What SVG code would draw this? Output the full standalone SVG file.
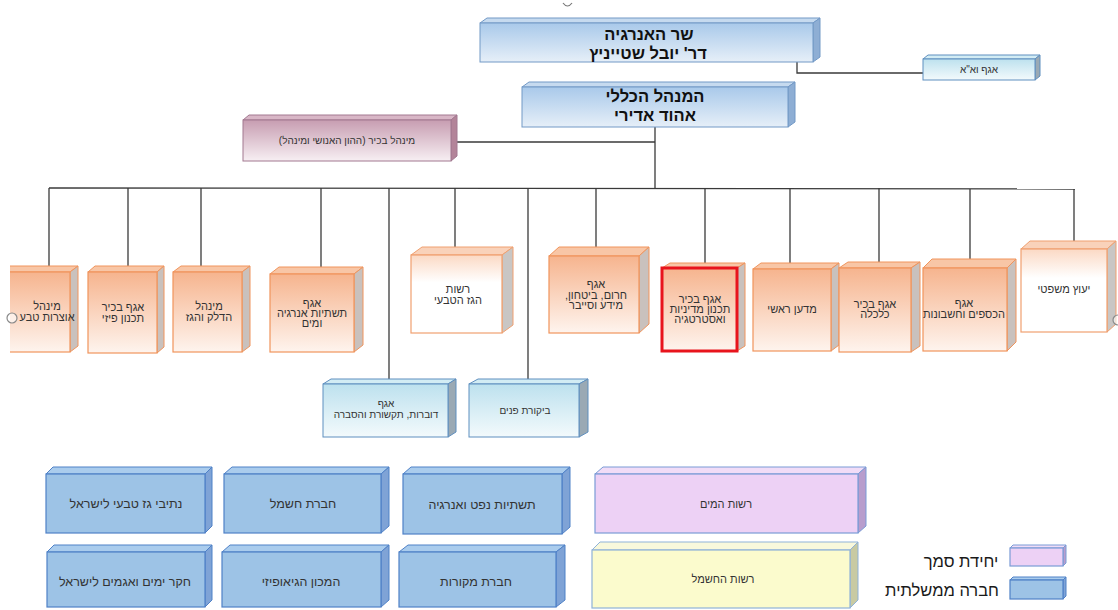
<svg xmlns="http://www.w3.org/2000/svg" width="1118" height="610" viewBox="0 0 1118 610">
<defs>
<linearGradient id="gBlue" x1="0" y1="0" x2="0" y2="1"><stop offset="0" stop-color="#a9c9ea"/><stop offset="1" stop-color="#e6eff8"/></linearGradient>
<linearGradient id="gPink" x1="0" y1="0" x2="0" y2="1"><stop offset="0" stop-color="#c79db1"/><stop offset="1" stop-color="#f7eff3"/></linearGradient>
<linearGradient id="gOr" x1="0" y1="0" x2="0" y2="1"><stop offset="0" stop-color="#f6b48e"/><stop offset="1" stop-color="#fef4ee"/></linearGradient>
<linearGradient id="gWh" x1="0" y1="0" x2="0" y2="1"><stop offset="0" stop-color="#fbd9c4"/><stop offset="0.35" stop-color="#ffffff"/><stop offset="1" stop-color="#ffffff"/></linearGradient>
<linearGradient id="gCy" x1="0" y1="0" x2="0" y2="1"><stop offset="0" stop-color="#bde1ee"/><stop offset="1" stop-color="#f3fafc"/></linearGradient>
<clipPath id="clipL"><rect x="10" y="200" width="120" height="200"/></clipPath>
</defs>
<style>
.ln{stroke:#3a3a3a;stroke-width:1.3;fill:none}
.t{font-family:"Liberation Sans","DejaVu Sans",sans-serif;direction:rtl;text-anchor:middle;fill:#333}
.tb{font-weight:bold;font-size:16.5px;fill:#111}
.ts{font-size:10px}
.tm{font-size:11px}
.tl{font-size:12.5px}
.tg{font-size:16.5px;fill:#1a1a1a}
.bl .f{fill:url(#gBlue);stroke:#7299c6;stroke-width:1}
.bl .tp{fill:#c6daef;stroke:#7299c6;stroke-width:1}
.bl .sd{fill:#8eaed4;stroke:#7299c6;stroke-width:1}
.pk .f{fill:url(#gPink);stroke:#a27890;stroke-width:1}
.pk .tp{fill:#d8b6c6;stroke:#a27890;stroke-width:1}
.pk .sd{fill:#b38499;stroke:#a27890;stroke-width:1}
.or .f{fill:url(#gOr);stroke:#f0945c;stroke-width:1.2}
.or .tp{fill:#f8c6a6;stroke:#f0945c;stroke-width:1}
.or .sd{fill:#c9c1bd;stroke:#f0945c;stroke-width:1}
.wh .f{fill:url(#gWh);stroke:#f0a070;stroke-width:1.2}
.wh .tp{fill:#f9d2ba;stroke:#f0a070;stroke-width:1}
.wh .sd{fill:#c9c6c4;stroke:#f0a070;stroke-width:1}
.cy .f{fill:url(#gCy);stroke:#5f8fbf;stroke-width:1}
.cy .tp{fill:#d2ecf4;stroke:#5f8fbf;stroke-width:1}
.cy .sd{fill:#9aa9b4;stroke:#5f8fbf;stroke-width:1}
.gb .f{fill:#9dc3e6;stroke:#4f81c7;stroke-width:1.2}
.gb .tp{fill:#aacced;stroke:#4f81c7;stroke-width:1}
.gb .sd{fill:#7fa3d6;stroke:#4f81c7;stroke-width:1}
.pu .f{fill:#edd1f5;stroke:#7a9bd6;stroke-width:1.2}
.pu .tp{fill:#f1dcf7;stroke:#7a9bd6;stroke-width:1}
.pu .sd{fill:#b89dcd;stroke:#7a9bd6;stroke-width:1}
.ye .f{fill:#fbfbcd;stroke:#8fb2d8;stroke-width:1.2}
.ye .tp{fill:#f8f8dc;stroke:#8fb2d8;stroke-width:1}
.ye .sd{fill:#c8caa2;stroke:#8fb2d8;stroke-width:1}
</style>
<rect width="1118" height="610" fill="#ffffff"/>
<path d="M563,3 Q567.5,9 572,3" fill="none" stroke="#777" stroke-width="1.2"/>

<g id="connectors">
<polyline class="ln" points="797,62 797,73 923,73"/>
<line class="ln" x1="655" y1="127" x2="655" y2="189"/>
<line class="ln" x1="457" y1="142" x2="655" y2="142"/>
<line class="ln" x1="49" y1="188" x2="1075" y2="189"/>
<line class="ln" x1="49" y1="188" x2="49" y2="266"/>
<line class="ln" x1="128" y1="188" x2="128" y2="266"/>
<line class="ln" x1="201" y1="188" x2="201" y2="266"/>
<line class="ln" x1="321" y1="188" x2="321" y2="267"/>
<line class="ln" x1="389" y1="188" x2="389" y2="379"/>
<line class="ln" x1="455" y1="188" x2="455" y2="247"/>
<line class="ln" x1="528" y1="188" x2="528" y2="379"/>
<line class="ln" x1="596" y1="188" x2="596" y2="247"/>
<line class="ln" x1="705" y1="188" x2="705" y2="263"/>
<line class="ln" x1="790" y1="188" x2="790" y2="263"/>
<line class="ln" x1="879" y1="188" x2="879" y2="262"/>
<line class="ln" x1="970" y1="189" x2="970" y2="259"/>
<line class="ln" x1="1074" y1="189" x2="1074" y2="248"/>
</g>

<g id="minister" class="bl">
<polygon class="tp" points="480,23 487,18 820,18 813,23"/>
<polygon class="sd" points="813,23 820,18 820,57 813,62"/>
<rect class="f" x="480" y="23" width="333" height="39"/>
<text class="t tb" x="649" y="40">שר האנרגיה</text>
<text class="t tb" x="648" y="59">דר' יובל שטייניץ</text>
</g>

<g id="agaf-va" class="cy">
<polygon class="tp" points="923,59 928,55 1040,55 1035,59"/>
<polygon class="sd" points="1035,59 1040,55 1040,76 1035,80"/>
<rect class="f" x="923" y="59" width="112" height="21"/>
<text class="t ts" x="979" y="73">אגף וא"א</text>
</g>

<g id="director" class="bl">
<polygon class="tp" points="522,87 529,82 795,82 788,87"/>
<polygon class="sd" points="788,87 795,82 795,122 788,127"/>
<rect class="f" x="522" y="87" width="266" height="40"/>
<text class="t tb" x="655" y="102">המנהל הכללי</text>
<text class="t tb" x="655" y="121">אהוד אדירי</text>
</g>

<g id="hr" class="pk">
<polygon class="tp" points="243,120 249,115 457,115 451,120"/>
<polygon class="sd" points="451,120 457,115 457,156 451,161"/>
<rect class="f" x="243" y="120" width="208" height="41"/>
<text class="t ts" x="347" y="144">מינהל בכיר (ההון האנושי ומינהל)</text>
</g>

<g id="natural-resources" class="or" clip-path="url(#clipL)">
<polygon class="tp" points="2,272 10,266 78,266 70,272"/>
<polygon class="sd" points="70,272 78,266 78,346 70,352"/>
<rect class="f" x="2" y="272" width="68" height="80"/>
<text class="t tm" x="47" y="310">מינהל</text>
<text class="t tm" x="47" y="321">אוצרות טבע</text>
</g>
<circle cx="12" cy="318" r="5" fill="#ffffff" fill-opacity="0.6" stroke="#8a8a8a" stroke-width="1.2"/>

<g id="physical-planning" class="or">
<polygon class="tp" points="88,272 95,266 164,266 157,272"/>
<polygon class="sd" points="157,272 164,266 164,347 157,353"/>
<rect class="f" x="88" y="272" width="69" height="81"/>
<text class="t tm" x="123" y="311">אגף בכיר</text>
<text class="t tm" x="123" y="322">תכנון פיזי</text>
</g>

<g id="fuel-gas" class="or">
<polygon class="tp" points="173,272 181,266 250,266 242,272"/>
<polygon class="sd" points="242,272 250,266 250,346 242,352"/>
<rect class="f" x="173" y="272" width="69" height="80"/>
<text class="t tm" x="209" y="310">מינהל</text>
<text class="t tm" x="209" y="321">הדלק והגז</text>
</g>

<g id="infrastructure" class="or">
<polygon class="tp" points="270,274 279,267 363,267 354,274"/>
<polygon class="sd" points="354,274 363,267 363,345 354,352"/>
<rect class="f" x="270" y="274" width="84" height="78"/>
<text class="t tm" x="312" y="307">אגף</text>
<text class="t tm" x="312" y="317">תשתיות אנרגיה</text>
<text class="t tm" x="312" y="327">ומים</text>
</g>

<g id="gas-authority" class="wh">
<polygon class="tp" points="411,255 422,247 513,247 502,255"/>
<polygon class="sd" points="502,255 513,247 513,325 502,333"/>
<rect class="f" x="411" y="255" width="91" height="78"/>
<text class="t tm" x="458" y="293">רשות</text>
<text class="t tm" x="458" y="304">הגז הטבעי</text>
</g>

<g id="emergency" class="or">
<polygon class="tp" points="549,256 559,247 649,247 639,256"/>
<polygon class="sd" points="639,256 649,247 649,324 639,333"/>
<rect class="f" x="549" y="256" width="90" height="77"/>
<text class="t tm" x="596" y="288">אגף</text>
<text class="t tm" x="596" y="299">חרום, ביטחון,</text>
<text class="t tm" x="596" y="309">מידע וסייבר</text>
</g>

<g id="policy-strategy" class="or">
<polygon class="tp" points="662,268 670,263 745,263 737,268"/>
<polygon class="sd" points="737,268 745,263 745,346 737,351"/>
<rect class="f" x="662" y="268" width="75" height="83" style="stroke:#e8141c;stroke-width:3"/>
<text class="t tm" x="700" y="303">אגף בכיר</text>
<text class="t tm" x="700" y="313">תכנון מדיניות</text>
<text class="t tm" x="700" y="323">ואסטרטגיה</text>
</g>

<g id="chief-scientist" class="or">
<polygon class="tp" points="753,269 761,263 839,263 831,269"/>
<polygon class="sd" points="831,269 839,263 839,345 831,351"/>
<rect class="f" x="753" y="269" width="78" height="82"/>
<text class="t tm" x="792" y="313">מדען ראשי</text>
</g>

<g id="economics" class="or">
<polygon class="tp" points="839,268 848,262 920,262 911,268"/>
<polygon class="sd" points="911,268 920,262 920,346 911,352"/>
<rect class="f" x="839" y="268" width="72" height="84"/>
<text class="t tm" x="875" y="308">אגף בכיר</text>
<text class="t tm" x="875" y="318">כלכלה</text>
</g>

<g id="finance" class="or">
<polygon class="tp" points="923,268 932,259 1016,259 1007,268"/>
<polygon class="sd" points="1007,268 1016,259 1016,342 1007,351"/>
<rect class="f" x="923" y="268" width="84" height="83"/>
<text class="t tm" x="964" y="307">אגף</text>
<text class="t tm" x="964" y="318">הכספים וחשבונות</text>
</g>

<g id="legal" class="wh">
<polygon class="tp" points="1021,249 1030,241 1116,241 1107,249"/>
<polygon class="sd" points="1107,249 1116,241 1116,324 1107,332"/>
<rect class="f" x="1021" y="249" width="86" height="83"/>
<text class="t tm" x="1064" y="293">יעוץ משפטי</text>
</g>
<circle cx="1118" cy="320" r="5" fill="#ffffff" fill-opacity="0.6" stroke="#8a8a8a" stroke-width="1.2"/>

<g id="spokesman" class="cy">
<polygon class="tp" points="323,384 331,379 456,379 448,384"/>
<polygon class="sd" points="448,384 456,379 456,432 448,437"/>
<rect class="f" x="323" y="384" width="125" height="53"/>
<text class="t ts" x="386" y="407">אגף</text>
<text class="t ts" x="386" y="418">דוברות, תקשורת והסברה</text>
</g>

<g id="audit" class="cy">
<polygon class="tp" points="469,384 478,379 588,379 579,384"/>
<polygon class="sd" points="579,384 588,379 588,432 579,437"/>
<rect class="f" x="469" y="384" width="110" height="53"/>
<text class="t ts" x="525" y="414">ביקורת פנים</text>
</g>

<g id="natural-gas-lines" class="gb">
<polygon class="tp" points="46,474 53,467 212,467 205,474"/>
<polygon class="sd" points="205,474 212,467 212,526 205,533"/>
<rect class="f" x="46" y="474" width="159" height="59"/>
<text class="t tl" x="126" y="508">נתיבי גז טבעי לישראל</text>
</g>

<g id="electric-company" class="gb">
<polygon class="tp" points="224,474 232,467 389,467 381,474"/>
<polygon class="sd" points="381,474 389,467 389,526 381,533"/>
<rect class="f" x="224" y="474" width="157" height="59"/>
<text class="t tl" x="303" y="508">חברת חשמל</text>
</g>

<g id="oil-infrastructure" class="gb">
<polygon class="tp" points="403,474 411,467 570,467 562,474"/>
<polygon class="sd" points="562,474 570,467 570,527 562,534"/>
<rect class="f" x="403" y="474" width="159" height="60"/>
<text class="t tl" x="482" y="509">תשתיות נפט ואנרגיה</text>
</g>

<g id="oceanographic" class="gb">
<polygon class="tp" points="47,552 54,545 212,545 205,552"/>
<polygon class="sd" points="205,552 212,545 212,600 205,607"/>
<rect class="f" x="47" y="552" width="158" height="55"/>
<text class="t tl" x="125" y="586">חקר ימים ואגמים לישראל</text>
</g>

<g id="geophysical" class="gb">
<polygon class="tp" points="222,552 230,545 389,545 381,552"/>
<polygon class="sd" points="381,552 389,545 389,600 381,607"/>
<rect class="f" x="222" y="552" width="159" height="55"/>
<text class="t tl" x="301" y="586">המכון הגיאופיזי</text>
</g>

<g id="mekorot" class="gb">
<polygon class="tp" points="399,552 408,545 565,545 556,552"/>
<polygon class="sd" points="556,552 565,545 565,600 556,607"/>
<rect class="f" x="399" y="552" width="157" height="55"/>
<text class="t tl" x="476" y="586">חברת מקורות</text>
</g>

<g id="water-authority" class="pu">
<polygon class="tp" points="595,474 603,467 866,467 858,474"/>
<polygon class="sd" points="858,474 866,467 866,526 858,533"/>
<rect class="f" x="595" y="474" width="263" height="59"/>
<text class="t tm" x="726" y="508">רשות המים</text>
</g>

<g id="electricity-authority" class="ye">
<polygon class="tp" points="592,550 600,542 858,542 850,550"/>
<polygon class="sd" points="850,550 858,542 858,600 850,608"/>
<rect class="f" x="592" y="550" width="258" height="58"/>
<text class="t tm" x="723" y="583">רשות החשמל</text>
</g>

<g id="legend">
<g class="pu">
<polygon class="tp" points="1010,548 1013,545 1066,545 1063,548"/>
<polygon class="sd" points="1063,548 1066,545 1066,563 1063,566"/>
<rect class="f" x="1010" y="548" width="53" height="18"/>
</g>
<text class="t tg" x="961" y="567">יחידת סמך</text>
<g class="gb">
<polygon class="tp" points="1010,580 1013,577 1066,577 1063,580"/>
<polygon class="sd" points="1063,580 1066,577 1066,596 1063,599"/>
<rect class="f" x="1010" y="580" width="53" height="19"/>
</g>
<text class="t tg" x="942" y="596">חברה ממשלתית</text>
</g>
</svg>
